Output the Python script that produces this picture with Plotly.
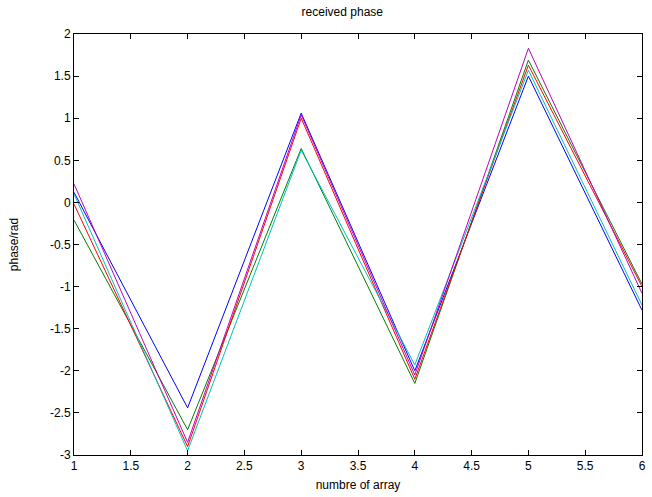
import plotly.graph_objects as go

x_vals = [1, 2, 3, 4, 5, 6]
blue = [0.12, -2.44, 1.06, -2.00, 1.50, -1.28]
green = [-0.21, -2.70, 0.64, -2.15, 1.69, -0.97]
red = [-0.02, -2.90, 1.00, -2.10, 1.63, -1.00]
cyan = [0.10, -2.95, 0.62, -1.93, 1.57, -1.22]
magenta = [0.22, -2.85, 1.04, -2.05, 1.83, -1.08]

x_ticks = [1, 1.5, 2, 2.5, 3, 3.5, 4, 4.5, 5, 5.5, 6]
y_ticks = [-3, -2.5, -2, -1.5, -1, -0.5, 0, 0.5, 1, 1.5, 2]

def fmt(v):
    return ("%g" % v)

series = [("blue", blue, "#0000ff"), ("green", green, "#008000"),
          ("red", red, "#ff0000"), ("cyan", cyan, "#00bfbf"),
          ("magenta", magenta, "#bf00bf")]

fig = go.Figure()
for name, ys, col in series:
    fig.add_trace(go.Scatter(x=x_vals, y=ys, mode="lines", name=name,
                             line=dict(color=col, width=1)))

axis_common = dict(showline=True, linecolor="black", linewidth=1, mirror="ticks",
                   ticks="inside", ticklen=5, tickcolor="black", showgrid=False,
                   zeroline=False, automargin=False,
                   tickfont=dict(size=12, color="black"))

fig.update_layout(
    width=652, height=497,
    margin=dict(l=74, r=10, t=34, b=42),
    paper_bgcolor="white", plot_bgcolor="white",
    font=dict(family="Liberation Sans, Arial, sans-serif", size=12, color="black"),
    showlegend=False,
    title=dict(text="received phase", x=0.525, xanchor="center", y=1 - 12 / 497,
               yanchor="middle", font=dict(size=12), automargin=False),
    xaxis=dict(range=[1, 6], tickvals=x_ticks, ticktext=[fmt(v) for v in x_ticks],
               title=dict(text="numbre of array", standoff=8, font=dict(size=12)), **axis_common),
    yaxis=dict(range=[-3, 2], tickvals=y_ticks, ticktext=[fmt(v) for v in y_ticks],
               title=dict(text="phase/rad", standoff=28, font=dict(size=12)), **axis_common),
)

fig.write_html("out.html", config={"displayModeBar": False},
               post_script="document.body.style.margin='0';document.body.style.overflow='hidden';")
